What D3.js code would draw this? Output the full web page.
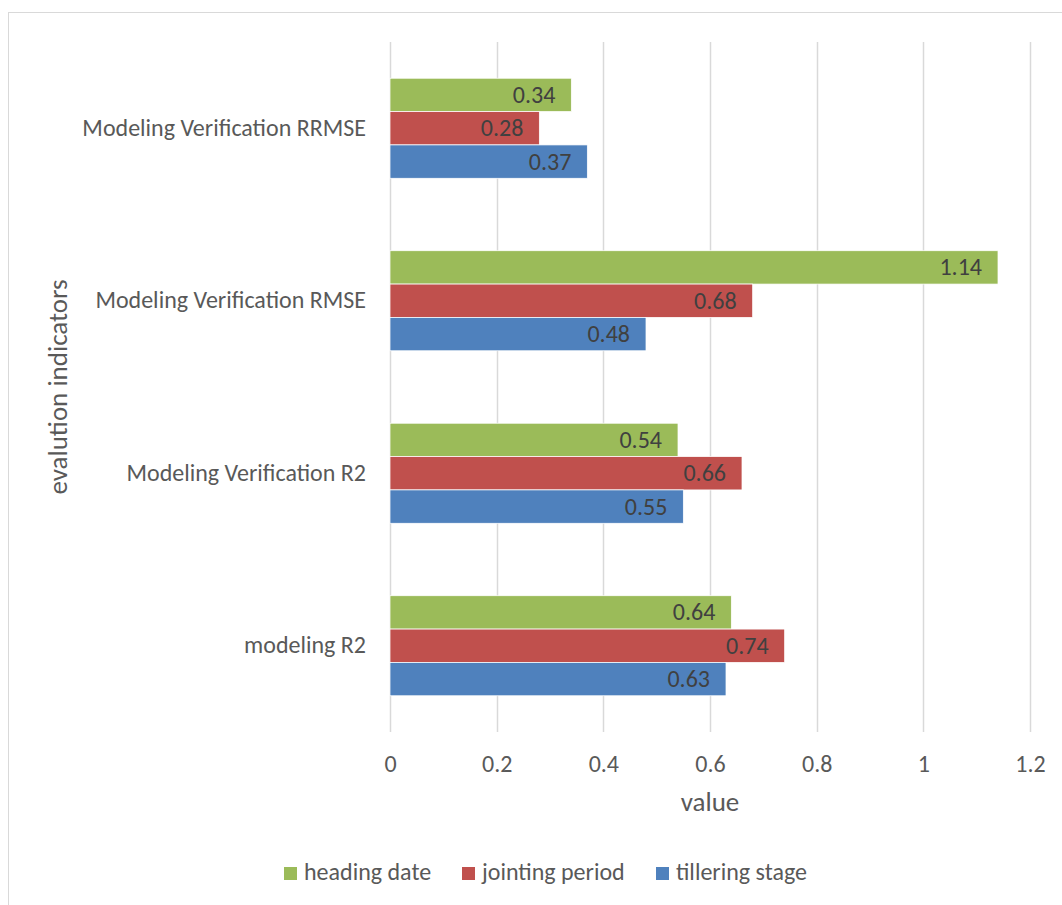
<!DOCTYPE html>
<html>
<head>
<meta charset="utf-8">
<script src="https://cdn.jsdelivr.net/npm/d3@7"></script>
<style>
  body { margin: 0; background: #fff; }
  text { font-family: Calibri, Carlito, "Open Sans", sans-serif; fill: #595959; }
</style>
</head>
<body>
<div id="chart"></div>
<script>
// categories from top to bottom
var categories = ['Modeling Verification RRMSE', 'Modeling Verification RMSE', 'Modeling Verification R2', 'modeling R2'];
var seriesNames = ['heading date', 'jointing period', 'tillering stage'];
var seriesColors = ['#9bbb59', '#c0504d', '#4f81bd'];
var headingDate = [0.34, 1.14, 0.54, 0.64];
var jointingPeriod = [0.28, 0.68, 0.66, 0.74];
var tilleringStage = [0.37, 0.48, 0.55, 0.63];
var xTicks = [0, 0.2, 0.4, 0.6, 0.8, 1, 1.2];

var seriesValues = [headingDate, jointingPeriod, tilleringStage];

var width = 1062, height = 905;
var plot = { left: 390, right: 1030, top: 42, bottom: 732 };
var fs = '24px';      // tick, category, label, legend text
var titleFs = '27px'; // axis titles

var svg = d3.select('#chart').append('svg')
  .attr('width', width)
  .attr('height', height);

// outer chart frame
svg.append('rect')
  .attr('x', 8.5).attr('y', 12.5)
  .attr('width', 1070).attr('height', 910)
  .attr('fill', 'none')
  .attr('stroke', '#d9d9d9')
  .attr('stroke-width', 1);

var x = d3.scaleLinear().domain([0, 1.2]).range([plot.left, plot.right]);
var y = d3.scaleBand().domain(categories).range([plot.top, plot.bottom])
  .paddingInner(0.42).paddingOuter(0.21);
var ySub = d3.scaleBand().domain(seriesNames).range([0, y.bandwidth()]);

// vertical gridlines
svg.append('g').selectAll('line').data(xTicks).enter().append('line')
  .attr('x1', function(d) { return Math.round(x(d)) + 0.5; })
  .attr('x2', function(d) { return Math.round(x(d)) + 0.5; })
  .attr('y1', plot.top).attr('y2', plot.bottom)
  .attr('stroke', '#d9d9d9')
  .attr('stroke-width', 1.5);

// bars
var groups = svg.append('g').selectAll('g').data(categories).enter().append('g')
  .attr('transform', function(d) { return 'translate(0,' + y(d) + ')'; });

groups.each(function(cat, ci) {
  var g = d3.select(this);
  seriesNames.forEach(function(s, si) {
    var v = seriesValues[si][ci];
    g.append('rect')
      .attr('x', x(0))
      .attr('y', ySub(s))
      .attr('width', x(v) - x(0))
      .attr('height', ySub.bandwidth())
      .attr('fill', seriesColors[si])
      .attr('stroke', '#fff')
      .attr('stroke-width', 0.75);
    g.append('text')
      .attr('x', x(v) - 16)
      .attr('y', ySub(s) + ySub.bandwidth() / 2)
      .attr('dy', '0.33em')
      .attr('text-anchor', 'end')
      .style('font-size', fs)
      .style('fill', '#404040')
      .text(v);
  });
});

// x axis labels
var xAxis = d3.axisBottom(x).tickValues(xTicks).tickSize(0).tickPadding(0)
  .tickFormat(function(d) { return String(d); });
var xg = svg.append('g')
  .attr('transform', 'translate(0,' + (plot.bottom + 40) + ')')
  .call(xAxis);
xg.select('.domain').remove();
xg.selectAll('text').style('font-size', fs).attr('dy', 0).attr('y', 0);

// y axis labels
var yAxis = d3.axisLeft(y).tickSize(0).tickPadding(0);
var yg = svg.append('g')
  .attr('transform', 'translate(366,0)')
  .call(yAxis);
yg.select('.domain').remove();
yg.selectAll('text').style('font-size', fs);

// axis titles
svg.append('text')
  .attr('x', (plot.left + plot.right) / 2)
  .attr('y', 811)
  .attr('text-anchor', 'middle')
  .style('font-size', titleFs)
  .text('value');

svg.append('text')
  .attr('transform', 'translate(67,387) rotate(-90)')
  .attr('text-anchor', 'middle')
  .style('font-size', titleFs)
  .text('evalution indicators');

// legend
var legendX = [284, 462, 656];
var legend = svg.append('g').selectAll('g').data(seriesNames).enter().append('g')
  .attr('transform', function(d, i) { return 'translate(' + legendX[i] + ',867)'; });
legend.append('rect')
  .attr('width', 13).attr('height', 13)
  .attr('fill', function(d, i) { return seriesColors[i]; });
legend.append('text')
  .attr('x', 20).attr('y', 13)
  .style('font-size', fs)
  .text(function(d) { return d; });
</script>
</body>
</html>
